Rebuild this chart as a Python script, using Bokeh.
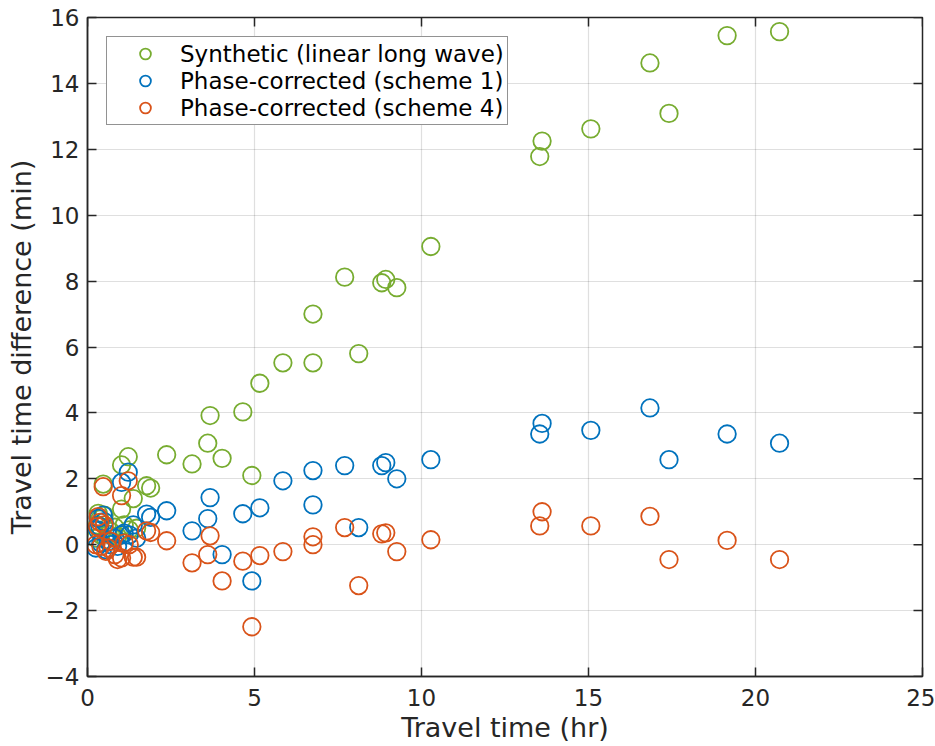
from bokeh.plotting import figure
from bokeh.models import (Range1d, FixedTicker, CustomJSTickFormatter,
                          Legend, LegendItem, ColumnDataSource)
from bokeh.embed import file_html
from bokeh.resources import INLINE

# Data
travel_time = [20.72, 19.15, 17.41, 16.84, 15.07, 13.61, 13.54, 10.28, 9.26, 8.93, 8.81, 8.12,
               7.70, 6.75, 6.75, 5.85, 5.16, 4.92, 4.65, 4.03, 3.67, 3.60, 3.13, 2.37, 1.22,
               1.02, 1.89, 1.77, 0.47, 1.37, 1.02, 0.32, 0.37, 0.82, 0.62, 1.47, 0.25, 0.40,
               0.55, 0.70, 0.90, 1.10, 0.30, 0.50, 1.25]
synthetic = [15.57, 15.45, 13.09, 14.62, 12.62, 12.25, 11.78, 9.05, 7.80, 8.05, 7.95, 5.80,
             8.12, 7.00, 5.52, 5.52, 4.90, 2.10, 4.03, 2.62, 3.92, 3.08, 2.45, 2.73, 2.67,
             2.42, 1.72, 1.79, 1.84, 1.40, 1.08, 0.95, 0.78, 0.53, 0.32, 0.50, 0.20, 0.30,
             0.15, 0.40, 0.25, 0.60, 0.60, 0.90, 0.45]
scheme1 = [3.08, 3.36, 2.58, 4.15, 3.47, 3.68, 3.36, 2.58, 2.00, 2.49, 2.40, 0.52,
           2.40, 2.25, 1.21, 1.94, 1.12, -1.10, 0.94, -0.30, 1.43, 0.79, 0.42, 1.03, 2.20,
           1.89, 0.83, 0.93, 0.90, 0.60, 0.30, 0.80, 0.55, 0.20, 0.10, 0.20, -0.10, 0.05,
           -0.15, 0.00, -0.05, 0.35, 0.45, 0.70, 0.30]
scheme4 = [-0.45, 0.13, -0.45, 0.86, 0.57, 1.00, 0.57, 0.15, -0.21, 0.36, 0.33, -1.24,
           0.52, 0.24, 0.00, -0.21, -0.33, -2.49, -0.50, -1.10, 0.27, -0.30, -0.55, 0.12, 1.94,
           1.49, 0.37, 0.42, 1.76, -0.38, -0.40, 0.85, 0.68, -0.30, -0.10, -0.38, 0.00, -0.05,
           -0.20, 0.10, -0.45, 0.05, 0.55, 0.60, 0.00]

x_ticks = [0, 5, 10, 15, 20, 25]
y_ticks = [-4, -2, 0, 2, 4, 6, 8, 10, 12, 14, 16]

series_names = ["Synthetic (linear long wave)", "Phase-corrected (scheme 1)", "Phase-corrected (scheme 4)"]
series_colors = ["#77AC30", "#0072BD", "#D95319"]
series_values = [synthetic, scheme1, scheme4]

FONT = "DejaVu Sans"
AX = "#262626"
W, H = 935, 746
BL, BR, BT, BB = 87, 13, 17, 70

x0, x1 = x_ticks[0], x_ticks[-1]
y0, y1 = y_ticks[0], y_ticks[-1]

p = figure(width=W, height=H, output_backend="svg", toolbar_location=None,
           x_range=Range1d(x0, x1), y_range=Range1d(y0, y1),
           min_border_left=BL, min_border_right=BR, min_border_top=BT, min_border_bottom=BB)
p.background_fill_color = "white"
p.border_fill_color = "white"
p.outline_line_color = AX
p.outline_line_width = 1.5

xt = FixedTicker(ticks=x_ticks)
yt = FixedTicker(ticks=y_ticks)
fmt = CustomJSTickFormatter(code="return (tick < 0 ? '\\u2212' : '') + Math.abs(tick).toString();")

p.xaxis.ticker = xt
p.yaxis.ticker = yt
p.xaxis.formatter = fmt
p.yaxis.formatter = fmt
p.xgrid.ticker = xt
p.ygrid.ticker = yt

TICK = 9
for ax in [p.xaxis[0], p.yaxis[0]]:
    ax.major_tick_in = TICK
    ax.major_tick_out = 0
    ax.minor_tick_in = 0
    ax.minor_tick_out = 0
    ax.axis_line_color = AX
    ax.axis_line_width = 1.5
    ax.major_tick_line_color = AX
    ax.major_tick_line_width = 1.5
    ax.major_label_text_font = FONT
    ax.major_label_text_font_size = "23px"
    ax.major_label_text_color = AX
    ax.axis_label_text_font = FONT
    ax.axis_label_text_font_size = "27px"
    ax.axis_label_text_font_style = "normal"
    ax.axis_label_text_color = AX

p.xaxis.axis_label = "Travel time (hr)"
p.yaxis.axis_label = "Travel time difference (min)"
p.xaxis.major_label_standoff = 12
p.yaxis.major_label_standoff = 8
p.xaxis.axis_label_standoff = 3
p.yaxis.axis_label_standoff = 6

for g in [p.xgrid[0], p.ygrid[0]]:
    g.grid_line_color = AX
    g.grid_line_alpha = 0.15
    g.grid_line_width = 1.2

# inward tick marks on the top and right edges of the box (MATLAB "box on")
fw, fh = W - BL - BR, H - BT - BB
dx = TICK * (x1 - x0) / fw
dy = TICK * (y1 - y0) / fh
p.segment(x0=x_ticks, y0=[y1] * len(x_ticks), x1=x_ticks, y1=[y1 - dy] * len(x_ticks),
          line_color=AX, line_width=1.5)
p.segment(x0=[x1] * len(y_ticks), y0=y_ticks, x1=[x1 - dx] * len(y_ticks), y1=y_ticks,
          line_color=AX, line_width=1.5)

items = []
for name, color, vals in zip(series_names, series_colors, series_values):
    src = ColumnDataSource(dict(x=travel_time, y=vals))
    r = p.scatter("x", "y", source=src, marker="circle", size=17.5, fill_color=None,
                  line_color=color, line_width=1.8)
    items.append(LegendItem(label=name, renderers=[r]))

legend = Legend(items=items, location="top_left", margin=19)
legend.label_text_font = FONT
legend.label_text_font_size = "23px"
legend.label_text_color = "black"
legend.border_line_color = AX
legend.border_line_width = 1.5
legend.background_fill_color = "white"
legend.background_fill_alpha = 1.0
legend.glyph_width = 70
legend.glyph_height = 27
legend.label_height = 27
legend.label_standoff = 0
legend.spacing = 0
legend.padding = 3
p.add_layout(legend)

open("out.html", "w").write(file_html(p, INLINE))
